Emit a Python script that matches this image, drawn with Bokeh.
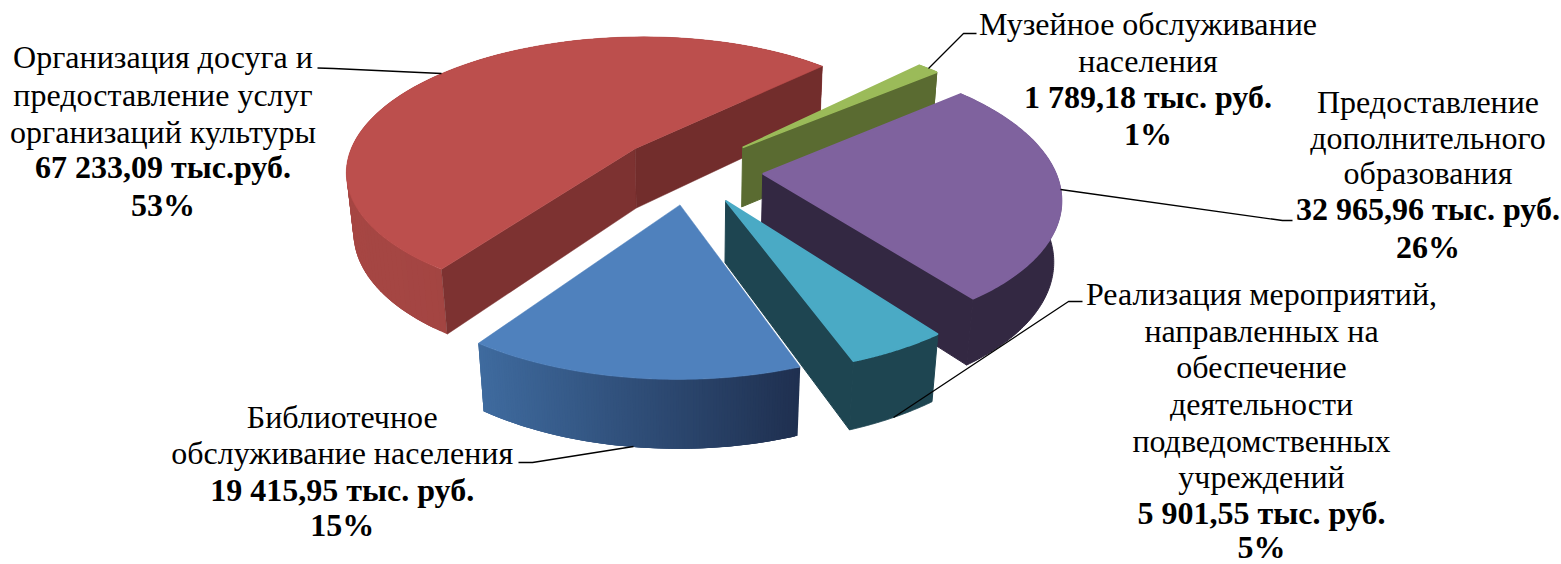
import numpy as np
from bokeh.plotting import figure
from bokeh.models import Range1d
from bokeh.core.properties import value
from bokeh.embed import file_html
from bokeh.resources import INLINE

# --- data ---
categories = ["Организация досуга и предоставление услуг организаций культуры",
              "Музейное обслуживание населения",
              "Предоставление дополнительного образования",
              "Реализация мероприятий, направленных на обеспечение деятельности подведомственных учреждений",
              "Библиотечное обслуживание населения"]
values = [67233.09, 1789.18, 32965.96, 5901.55, 19415.95]
value_labels = ["67 233,09 тыс.руб.", "1 789,18 тыс. руб.", "32 965,96 тыс. руб.", "5 901,55 тыс. руб.", "19 415,95 тыс. руб."]
percent_labels = ["53%", "1%", "26%", "5%", "15%"]
name_lines = [["Организация досуга и", "предоставление услуг", "организаций культуры"],
              ["Музейное обслуживание", "населения"],
              ["Предоставление", "дополнительного", "образования"],
              ["Реализация мероприятий,", "направленных на", "обеспечение", "деятельности", "подведомственных", "учреждений"],
              ["Библиотечное", "обслуживание населения"]]

# --- styling ---
tops = ["#BC4F4D", "#9BBB59", "#7F629E", "#4AAAC5", "#4F81BD"]
wall_l = ["#A64643", "#5A6B31", "#332842", "#1E4551", "#3F6B9F"]
wall_r = ["#994240", "#5A6B31", "#332842", "#1E4551", "#1F3050"]
face_start = ["#7D3231", None, None, None, None]
face_end = ["#722D2C", "#5A6B31", "#332842", "#1E4551", None]
START = 215.0
EXPLODE = [0.251552, 0.251231, 0.250456, 0.249896, 0.250542]
CAM = [310.157, 0.815677, 14.4314, 689.416, -37.7992, -102.192, 65.2213, 169.416,
       0.0526988, 0.146122, 0.0208164]

FONT_PX = 32
MID = 0.3375 * FONT_PX
label_x = [162.5, 1147.5, 1427.5, 1261, 341.7]
label_y = [[67, 105, 142, 177, 215], [34, 71, 107, 144], [112, 148, 183, 219, 257],
           [304, 341, 377, 414, 451, 487, 523, 557], [427, 463, 500, 535]]
leaders = [([317, 333, 441], [67.5, 68, 73]),
           ([976, 963, 928], [33, 33, 68]),
           ([1292, 1282, 1060], [220, 220, 189]),
           ([1082, 1068, 893], [301, 301, 417]),
           ([518, 532, 633], [462, 462, 446])]

frac = np.array(values) / sum(values) * 360
starts = START - np.concatenate([[0], np.cumsum(frac)[:-1]])
ends = starts - frac


def proj(X, Y, Z):
    c = CAM
    w = c[8] * X + c[9] * Y + c[10] * Z + 1
    return (c[0] * X + c[1] * Y + c[2] * Z + c[3]) / w, (c[4] * X + c[5] * Y + c[6] * Z + c[7]) / w


def offset(i):
    m = np.radians((starts[i] + ends[i]) / 2)
    return EXPLODE[i] * np.cos(m), EXPLODE[i] * np.sin(m)


def rim(i, Z, n=120):
    ox, oy = offset(i)
    th = np.radians(np.linspace(starts[i], ends[i], n))
    return proj(ox + np.cos(th), oy + np.sin(th), Z)


def mix(c1, c2, t):
    a = [int(c1[k:k + 2], 16) for k in (1, 3, 5)]
    b = [int(c2[k:k + 2], 16) for k in (1, 3, 5)]
    return "#%02X%02X%02X" % tuple(int(round(u + (v - u) * t)) for u, v in zip(a, b))


f = figure(width=1561, height=564, x_range=Range1d(0, 1561), y_range=Range1d(564, 0),
           output_backend="svg", toolbar_location=None, min_border=0)
f.axis.visible = False
f.grid.visible = False
f.outline_line_color = None

for i in range(len(values)):
    xt, yt = rim(i, 0)
    xb, yb = rim(i, 1)
    ox, oy = offset(i)
    ax, ay = proj(ox, oy, 0)
    bx, by = proj(ox, oy, 1)
    lo, hi = xt.min(), xt.max()
    flat = wall_l[i] == wall_r[i]
    if flat:
        f.patch(list(xt) + list(xb[::-1]), list(yt) + list(yb[::-1]), fill_color=wall_l[i],
                line_color=wall_l[i], line_width=1.0)
    else:
        qx, qy, qc = [], [], []
        for j in range(len(xt) - 1):
            k = min(j + 3, len(xt) - 1)
            qx.append([xt[j], xt[k], xb[k], xb[j]])
            qy.append([yt[j], yt[k], yb[k], yb[j]])
            qc.append(mix(wall_l[i], wall_r[i], (xt[j] - lo) / (hi - lo)))
        f.patches(qx, qy, fill_color=qc, line_color=None)
    if face_start[i]:
        f.patch([ax, xt[0], xb[0], bx], [ay, yt[0], yb[0], by], fill_color=face_start[i],
                line_color=face_start[i], line_width=0.5)
    if face_end[i]:
        f.patch([ax, xt[-1], xb[-1], bx], [ay, yt[-1], yb[-1], by], fill_color=face_end[i],
                line_color=face_end[i], line_width=1.0 if flat else 0.5)
    f.patch(list(xt) + [ax], list(yt) + [ay], fill_color=tops[i], line_color=tops[i],
            line_width=1.6 if flat else 0.5)

for lx, ly in leaders:
    f.line(lx, ly, line_color="#000000", line_width=1.3)

for i in range(len(values)):
    nl = name_lines[i]
    ys = [y - MID for y in label_y[i]]
    f.text([label_x[i]] * len(nl), ys[:len(nl)], text=nl, text_font=value("Liberation Serif"),
           text_font_size=f"{FONT_PX}px", text_align="center", text_baseline="middle", text_color="#000000")
    f.text([label_x[i]] * 2, ys[len(nl):], text=[value_labels[i], percent_labels[i]],
           text_font=value("Liberation Serif"), text_font_style="bold", text_font_size=f"{FONT_PX}px",
           text_align="center", text_baseline="middle", text_color="#000000")

open("out.html", "w").write(file_html(f, INLINE))
